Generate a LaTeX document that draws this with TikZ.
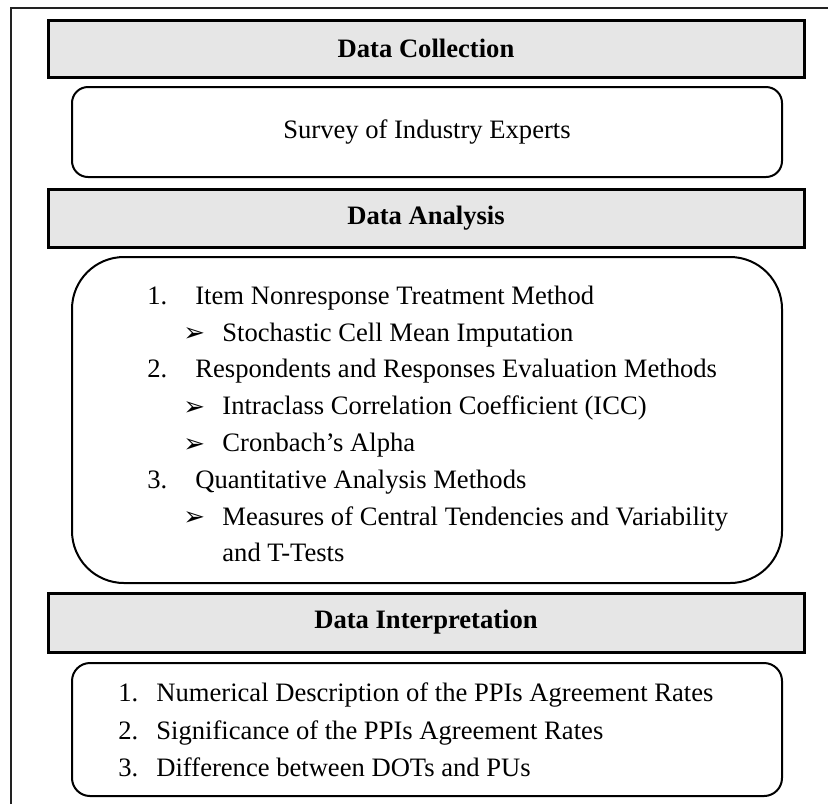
\documentclass[tikz,border=0pt]{standalone}
\usepackage{fontspec}
\setmainfont{Liberation Serif}
\newfontfamily\arrowfont{DejaVu Sans}
\usetikzlibrary{positioning}
\definecolor{HeadFill}{HTML}{E6E6E6}
\definecolor{FrameInk}{HTML}{222222}
\newcommand{\numline}[2]{\makebox[24pt][l]{#1}#2}
\newcommand{\arrline}[1]{\hspace*{18pt}\makebox[19.5pt][l]{\arrowfont\fontsize{13}{13}\selectfont\raisebox{-0.3pt}{➢}}#1}
\tikzset{
  headbar/.style={draw=black,line width=1.5pt,fill=HeadFill,minimum width=378pt,
                  inner sep=0pt,font=\fontsize{13.3}{16}\selectfont\bfseries},
  roundbox/.style={draw=black,line width=1pt,minimum width=355pt,inner sep=0pt},
  listtext/.style={anchor=west,align=left,inner sep=0pt,
                   font=\fontsize{13.3}{18.4}\selectfont},
}
\begin{document}
\begin{tikzpicture}[x=0.5pt,y=-0.5pt,font=\fontsize{13.3}{16}\selectfont]
  \useasboundingbox (0,0) rectangle (828,804);
  % outer frame, open to the right and below
  \draw[FrameInk,line width=1pt] (11,804) -- (11,8) -- (828,8);

  % collection
  \node[headbar,minimum height=28.5pt] (collect) at (426,48.5) {Data Collection};
  \node[roundbox,rounded corners=8pt,minimum height=45pt] (survey) at (427,132)
    {Survey of Industry Experts};

  % analysis
  \node[headbar,minimum height=29pt] (analysis) at (426,218) {Data Analysis};
  \node[roundbox,rounded corners=26pt,minimum height=163pt] (methods) at (427,420) {};
  \node[listtext] (methodlist) at (147,424) {%
    \numline{1.}{Item Nonresponse Treatment Method}\\
    \arrline{Stochastic Cell Mean Imputation}\\
    \numline{2.}{Respondents and Responses Evaluation Methods}\\
    \arrline{Intraclass Correlation Coefficient (ICC)}\\
    \arrline{Cronbach’s Alpha}\\
    \numline{3.}{Quantitative Analysis Methods}\\
    \arrline{Measures of Central Tendencies and Variability}\\
    \hspace*{37.5pt}and T-Tests};

  % interpretation
  \node[headbar,minimum height=29.5pt] (interp) at (426,622.5) {Data Interpretation};
  \node[roundbox,rounded corners=9pt,minimum height=66.5pt] (results) at (427,729.5) {};
  \node[listtext,font=\fontsize{13.3}{18.8}\selectfont] (resultlist) at (118,730) {%
    \makebox[19pt][l]{1.}Numerical Description of the PPIs Agreement Rates\\
    \makebox[19pt][l]{2.}Significance of the PPIs Agreement Rates\\
    \makebox[19pt][l]{3.}Difference between DOTs and PUs};
\end{tikzpicture}
\end{document}
